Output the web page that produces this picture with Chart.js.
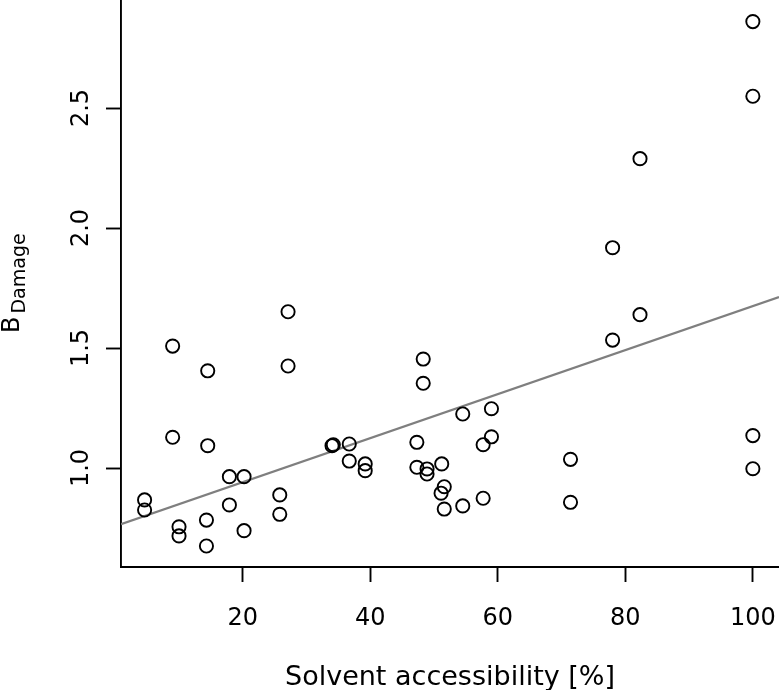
<!DOCTYPE html>
<html lang="en">
<head>
  <meta charset="UTF-8" />
  <title>B Damage vs solvent accessibility</title>
  <script src="https://cdn.jsdelivr.net/npm/chart.js"></script>
  <style>
    html, body { margin: 0; padding: 0; background: #fff; }
    #wrap { width: 779px; height: 690px; }
  </style>
</head>
<body>
<div id="wrap"><canvas id="plot" width="779" height="690"></canvas></div>
<script>
  // solvent accessibility [%] and B_Damage per residue
  const solventAccess = [
    4.6, 4.6, 9.0, 9.0, 10.0, 10.0, 14.5, 14.5, 14.3, 14.3,
    17.9, 17.9, 20.2, 20.2, 25.8, 25.8, 27.1, 27.1, 34.0, 34.2,
    36.7, 36.7, 39.2, 39.2, 47.3, 47.3, 48.3, 48.3, 48.9, 48.9,
    51.2, 51.6, 51.1, 51.6, 54.5, 54.5, 57.7, 57.7, 59.0, 59.0,
    71.4, 71.4, 78.0, 78.0, 82.3, 82.3, 100.0, 100.0, 100.0, 100.0
  ];
  const bDamage = [
    0.867, 0.825, 1.508, 1.128, 0.755, 0.717, 1.405, 1.093, 0.783, 0.675,
    0.964, 0.846, 0.964, 0.739, 0.888, 0.807, 1.651, 1.425, 1.093, 1.097,
    1.100, 1.029, 1.017, 0.989, 1.107, 1.003, 1.454, 1.353, 0.996, 0.975,
    1.017, 0.922, 0.895, 0.829, 1.225, 0.842, 1.097, 0.874, 1.247, 1.130,
    1.036, 0.857, 1.918, 1.533, 2.289, 1.639, 2.860, 2.549, 1.135, 0.997
  ];

  // regression line end points
  const fitX = [0.9, 104.1];
  const fitY = [0.766, 1.712];

  const xTicks = [20, 40, 60, 80, 100];
  const yTicks = [1.0, 1.5, 2.0, 2.5];

  const FONT = '"DejaVu Sans", sans-serif';

  // y axis title with subscript
  const yTitle = {
    id: 'yTitle',
    afterDraw(chart) {
      const ctx = chart.ctx;
      ctx.save();
      ctx.translate(18.5, 333);
      ctx.rotate(-Math.PI / 2);
      ctx.fillStyle = '#000';
      ctx.textBaseline = 'alphabetic';
      ctx.textAlign = 'left';
      ctx.font = '24px ' + FONT;
      ctx.fillText('B', 0, 0);
      const w = ctx.measureText('B').width;
      ctx.font = '19px ' + FONT;
      ctx.fillText('Damage', w + 3, 6);
      ctx.restore();
    }
  };

  const points = solventAccess.map((x, i) => ({ x, y: bDamage[i] }));
  const line = fitX.map((x, i) => ({ x, y: fitY[i] }));

  new Chart(document.getElementById('plot'), {
    type: 'scatter',
    data: {
      datasets: [
        {
          label: 'fit',
          type: 'line',
          data: line,
          borderColor: '#7f7f7f',
          borderWidth: 2.2,
          pointRadius: 0,
          fill: false,
          order: 2
        },
        {
          label: 'residues',
          data: points,
          pointRadius: 6.6,
          pointBorderWidth: 1.9,
          pointBorderColor: '#000',
          pointBackgroundColor: 'rgba(0,0,0,0)',
          order: 1
        }
      ]
    },
    options: {
      responsive: false,
      animation: false,
      layout: { padding: 0, autoPadding: false },
      plugins: {
        legend: { display: false },
        tooltip: { enabled: false }
      },
      scales: {
        x: {
          type: 'linear',
          min: 0.9,
          max: 104.1,
          afterBuildTicks: s => { s.ticks = xTicks.map(v => ({ value: v })); },
          afterFit: s => { s.height = 123; s.paddingLeft = 0; s.paddingRight = 0; },
          grid: { drawOnChartArea: false, tickLength: 15, tickColor: '#000', tickWidth: 1.9 },
          border: { color: '#000', width: 1.9 },
          ticks: {
            color: '#000',
            font: { family: FONT, size: 24 },
            padding: 22,
            maxRotation: 0,
            callback: v => String(v)
          },
          title: {
            display: true,
            text: 'Solvent accessibility [%]',
            color: '#000',
            font: { family: FONT, size: 27, lineHeight: 0.9 },
            padding: { top: 0, bottom: 0 }
          }
        },
        y: {
          type: 'linear',
          min: 0.5875,
          max: 2.95,
          afterBuildTicks: s => { s.ticks = yTicks.map(v => ({ value: v })); },
          afterFit: s => { s.width = 121; s.paddingTop = 0; s.paddingBottom = 0; },
          grid: { drawOnChartArea: false, tickLength: 15, tickColor: '#000', tickWidth: 1.9 },
          border: { color: '#000', width: 1.9 },
          ticks: {
            color: '#000',
            font: { family: FONT, size: 24 },
            padding: 5,
            minRotation: 90,
            maxRotation: 90,
            crossAlign: 'center',
            callback: v => v.toFixed(1)
          }
        }
      }
    },
    plugins: [yTitle]
  });
</script>
</body>
</html>
